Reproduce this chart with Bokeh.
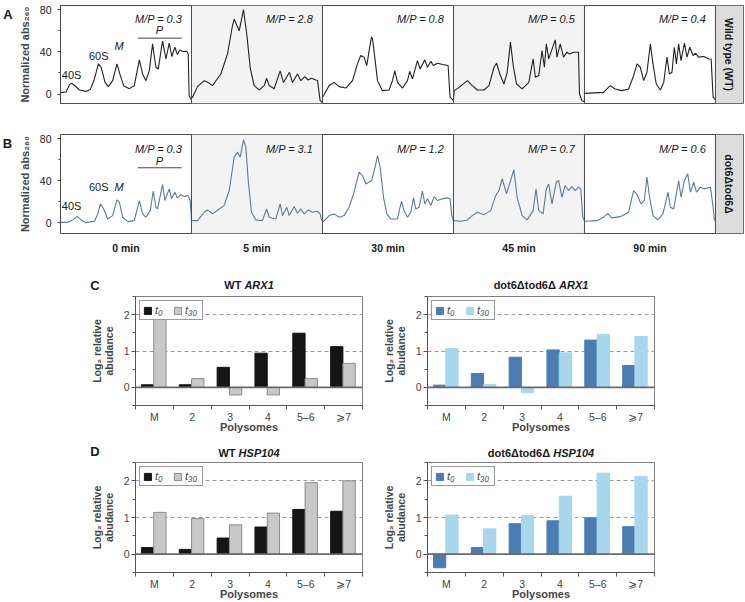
from math import pi
from bokeh.plotting import figure
from bokeh.layouts import column, row
from bokeh.models import (Range1d, FixedTicker, Span, BoxAnnotation, Label,
                          Legend, LegendItem)
from bokeh.embed import file_html
from bokeh.resources import INLINE

FONT = "Liberation Sans"

# ---------------- data: polysome profiles ----------------
# x = position across the gradient (% of fraction range), y = normalized abs260
times = ["0 min", "5 min", "30 min", "45 min", "90 min"]
mp_wt = ["0.3", "2.8", "0.8", "0.5", "0.4"]
mp_dot = ["0.3", "3.1", "1.2", "0.7", "0.6"]
strain_wt = "Wild type (WT)"
strain_dot = "dot6Δtod6Δ"

wt_0_x = [0, 4.3, 6.9, 8.6, 11.2, 14.5, 19.5, 22.8, 25.9, 28.9, 31.0, 34.0, 36.5, 39.8,
          43.1, 45.7, 48.2, 52.5, 56.3, 60.2, 62.7, 65.2, 67.8, 70.3, 72.8, 74.6, 77.9,
          80.5, 83.0, 85.0, 87.3, 89.3, 91.1, 93.1, 96.4, 97.5, 98.2, 100]
wt_0_y = [1.3, 1.9, 8.9, 10.2, 7.6, 3.8, 2.5, 4.4, 14.3, 28.6, 25.4, 11.1, 7.0, 12.7,
          28.6, 17.5, 7.9, 5.1, 7.9, 32.4, 19.0, 12.7, 22.2, 47.6, 25.4, 23.8, 50.2,
          33.3, 48.3, 35.6, 44.4, 37.5, 41.9, 40.3, 40.6, 38.0, -1.6, -5.7]

wt_5_x = [0, 0.8, 4.6, 9.7, 12.7, 16.0, 22.4, 27.5, 31.3, 32.6, 36.4, 39.7, 42.2, 44.8,
          47.8, 51.7, 55.5, 57.3, 59.3, 63.1, 67.7, 70.2, 74.8, 77.1, 80.9, 83.5, 86.5,
          89.1, 91.6, 94.9, 96.2, 98.2, 100]
wt_5_y = [-4.0, -3.0, 7.0, 12.7, 11.0, 8.0, 19.0, 38.0, 65.0, 71.0, 60.0, 80.0, 57.0, 25.0,
          8.0, 4.0, 8.0, 15.0, 8.0, 5.0, 22.0, 11.0, 20.6, 11.0, 19.0, 12.7, 16.5,
          13.3, 15.0, 13.3, 13.0, -6.3, -8.0]

wt_30_x = [0, 0.8, 5.1, 8.9, 12.7, 17.8, 22.9, 26.7, 29.2, 31.8, 33.8, 35.6, 37.4, 38.2,
           39.9, 42.0, 45.8, 50.8, 53.4, 55.2, 57.3, 61.1, 64.9, 66.6, 68.7, 72.5, 74.5,
           78.1, 80.2, 82.7, 84.7, 87.8, 91.6, 95.9, 97.4, 100]
wt_30_y = [-3.0, -1.6, 8.0, 11.0, 7.0, 5.7, 12.7, 28.6, 36.5, 35.0, 27.0, 41.0, 54.0, 52.4,
           35.0, 12.7, 3.2, 3.8, 12.7, 22.0, 11.0, 5.7, 12.7, 21.6, 14.3, 31.7, 23.8,
           32.4, 25.4, 31.0, 27.0, 29.2, 28.0, 27.0, -3.0, -6.3]

wt_45_x = [0, 0.5, 4.3, 10.6, 14.4, 18.2, 23.3, 27.1, 30.9, 32.9, 35.4, 38.5, 41.0, 43.5,
           45.6, 48.1, 52.4, 57.5, 60.8, 62.5, 65.1, 67.6, 69.4, 70.9, 72.7, 77.7, 79.0,
           81.5, 84.0, 86.6, 88.6, 91.6, 95.4, 96.2, 98.0, 100]
wt_45_y = [-5.0, 3.2, 6.3, 12.7, 8.0, 3.8, 3.8, 8.0, 25.4, 29.2, 19.0, 9.5, 20.6, 49.2,
           27.0, 9.5, 4.8, 11.0, 33.3, 15.9, 17.5, 41.3, 25.4, 47.6, 33.3, 51.4, 35.0,
           47.6, 35.0, 39.7, 38.0, 39.7, 39.7, 0.0, -6.3, -7.3]

wt_90_x = [0, 0.5, 14.5, 19.6, 23.5, 28.6, 33.7, 37.5, 40.1, 42.6, 45.2, 47.7, 50.3, 52.3,
           54.8, 57.9, 60.5, 63.0, 64.8, 66.8, 68.6, 70.2, 71.9, 73.7, 76.3, 78.3, 80.4,
           82.9, 84.7, 87.2, 91.1, 94.9, 96.7, 98.2, 100]
wt_90_y = [0.6, 0.6, 1.6, 8.0, 4.8, 3.2, 4.8, 17.5, 28.6, 25.4, 12.7, 20.6, 47.6, 28.6,
           9.5, 3.8, 11.0, 35.0, 19.0, 20.6, 44.4, 28.6, 47.6, 31.7, 48.3, 35.0, 44.4,
           36.5, 38.7, 35.0, 35.6, 33.3, 33.0, -3.0, -5.7]

dot_0_x = [0, 0.5, 5.6, 9.4, 12.7, 15.7, 19.5, 25.9, 28.4, 30.5, 33.0, 36.0, 39.8, 43.1,
           44.9, 47.5, 51.3, 56.3, 60.2, 62.7, 65.2, 68.5, 70.8, 72.8, 74.1, 77.9, 79.7,
           83.0, 84.8, 87.3, 89.3, 91.9, 94.4, 97.5, 99.0, 100]
dot_0_y = [0.6, 0.6, 0.6, 2.9, 6.3, 2.9, 0.3, 1.6, 8.6, 18.1, 13.3, 3.8, 7.0, 21.9,
           19.7, 5.4, 1.3, 2.2, 21.3, 8.6, 5.4, 11.7, 30.2, 14.9, 13.3, 36.5, 21.3,
           32.4, 22.9, 29.2, 23.8, 27.0, 25.0, 26.0, 21.3, 2.2]

dot_5_x = [0, 0.8, 4.6, 9.7, 12.2, 16.0, 21.1, 24.9, 28.8, 32.6, 35.1, 37.2, 39.7, 41.5,
           43.3, 45.8, 49.1, 54.2, 57.3, 59.3, 64.4, 67.7, 69.5, 72.8, 74.6, 78.4, 80.9,
           83.5, 86.0, 89.1, 92.4, 96.2, 98.2, 99.2, 100]
dot_5_y = [2.2, 2.2, 2.2, 10.2, 12.4, 8.6, 13.3, 16.5, 30.8, 62.5, 67.3, 62.5, 79.0, 72.0,
           40.3, 10.2, 2.9, 2.2, 13.3, 5.4, 3.8, 18.1, 7.0, 14.9, 7.0, 15.6, 9.2,
           13.3, 8.6, 12.4, 10.2, 11.1, 8.6, 2.9, 2.2]

dot_30_x = [0, 0.8, 5.1, 8.9, 12.7, 16.5, 20.3, 24.1, 27.9, 30.5, 33.1, 37.6, 40.7, 42.0,
            44.0, 46.6, 49.1, 52.1, 57.3, 59.2, 60.3, 62.3, 64.9, 67.4, 69.5, 71.2, 73.7,
            76.3, 78.1, 80.2, 82.7, 85.2, 87.8, 91.6, 94.9, 97.4, 98.7, 100]
dot_30_y = [2.2, 1.3, 7.0, 8.6, 5.4, 7.0, 14.9, 29.2, 48.3, 45.0, 37.0, 40.3, 56.0, 64.0,
            53.0, 24.4, 8.6, 3.8, 3.8, 14.9, 20.6, 11.7, 5.4, 10.2, 23.8, 13.3, 14.9,
            30.2, 18.1, 22.9, 16.5, 25.0, 21.3, 22.9, 23.8, 22.9, 7.0, 2.2]

dot_45_x = [0, 0.5, 5.6, 10.6, 14.4, 18.2, 23.3, 28.4, 32.2, 34.7, 37.2, 40.5, 46.1, 48.6,
            52.4, 56.2, 60.8, 63.0, 65.1, 68.4, 70.9, 72.7, 75.2, 78.5, 80.3, 82.8, 85.3,
            87.8, 90.4, 92.9, 95.4, 97.2, 98.7, 100]
dot_45_y = [2.2, 2.2, 1.6, 2.9, 7.0, 10.2, 7.9, 11.7, 26.0, 30.8, 42.0, 27.6, 50.5, 24.4,
            7.0, 2.9, 11.7, 32.4, 11.7, 8.6, 32.4, 37.0, 18.1, 38.7, 40.3, 24.4, 35.6,
            30.8, 34.6, 30.8, 34.0, 32.4, 5.4, 2.2]

dot_90_x = [0, 0.5, 9.4, 14.5, 17.6, 20.9, 27.3, 33.7, 37.5, 40.1, 43.1, 45.7, 47.7, 49.7,
            52.3, 55.9, 59.9, 63.8, 65.6, 68.1, 71.9, 73.7, 76.3, 78.8, 80.9, 83.4, 85.5,
            88.5, 91.1, 96.2, 98.2, 99.2]
dot_90_y = [1.6, 1.6, 2.2, 5.4, 9.2, 4.8, 6.0, 10.2, 30.8, 27.0, 18.1, 21.3, 43.5, 24.4,
            7.0, 2.9, 8.6, 29.2, 14.9, 13.3, 40.3, 24.4, 40.3, 46.7, 29.2, 38.7, 29.2,
            34.0, 32.4, 34.0, 14.9, 2.2]

wt_profiles = [(wt_0_x, wt_0_y), (wt_5_x, wt_5_y), (wt_30_x, wt_30_y),
               (wt_45_x, wt_45_y), (wt_90_x, wt_90_y)]
dot_profiles = [(dot_0_x, dot_0_y), (dot_5_x, dot_5_y), (dot_30_x, dot_30_y),
                (dot_45_x, dot_45_y), (dot_90_x, dot_90_y)]

# ---------------- data: log2 relative abundance ----------------
polysome_classes = ["M", "2", "3", "4", "5–6", "⩾7"]
wt_arx1_t0 = [0.07, 0.07, 0.55, 0.94, 1.49, 1.12]
wt_arx1_t30 = [1.97, 0.24, -0.21, -0.21, 0.24, 0.66]
dot_arx1_t0 = [0.06, 0.38, 0.83, 1.03, 1.30, 0.60]
dot_arx1_t30 = [1.07, 0.08, -0.15, 0.95, 1.46, 1.40]
wt_hsp104_t0 = [0.18, 0.13, 0.44, 0.74, 1.22, 1.17]
wt_hsp104_t30 = [1.14, 0.97, 0.80, 1.12, 1.95, 2.00]
dot_hsp104_t0 = [-0.37, 0.18, 0.83, 0.91, 0.99, 0.75]
dot_hsp104_t30 = [1.07, 0.69, 1.05, 1.58, 2.21, 2.12]

# ---------------- layout constants ----------------
TOTAL_W = 745
PANEL = 100.0
BOX = 21.4
LINE_COL = "#4a4a4a"
TXT = "#1a1a1a"


def label(p, x, y, text, size="11px", style="normal", align="center",
          baseline="middle", angle=0.0, color=TXT):
    p.add_layout(Label(x=x, y=y, text=text, text_font=FONT, text_font_size=size,
                       text_font_style=style, text_align=align,
                       text_baseline=baseline, angle=angle, text_color=color))


def text_strip(width, height):
    """A frame-only figure used to hold free text (titles, panel letters)."""
    p = figure(width=width, height=height, x_range=Range1d(0, width),
               y_range=Range1d(0, height), output_backend="svg",
               toolbar_location=None, x_axis_location=None,
               y_axis_location=None, min_border=0)
    p.min_border_left = p.min_border_right = 0
    p.min_border_top = p.min_border_bottom = 0
    p.outline_line_color = None
    p.grid.visible = False
    p.background_fill_color = "white"
    p.border_fill_color = "white"
    return p


def profile_fig(profiles, mp_vals, color, width, height, btop, bbot, y0,
                strain, ann, show_times):
    p = figure(width=width, height=height, x_range=Range1d(0, 5 * PANEL + BOX),
               y_range=Range1d(y0, 84), output_backend="svg",
               toolbar_location=None,
               x_axis_location="below" if show_times else None,
               min_border_left=46, min_border_right=2, min_border_top=btop,
               min_border_bottom=bbot)
    p.grid.visible = False
    p.outline_line_color = LINE_COL
    p.outline_line_width = 1
    p.background_fill_color = "white"
    p.border_fill_color = "white"
    for k in (1, 3):
        p.add_layout(BoxAnnotation(left=k * PANEL, right=(k + 1) * PANEL,
                                   fill_color="#f3f3f3", fill_alpha=1,
                                   line_alpha=0, level="underlay"))
    p.add_layout(BoxAnnotation(left=5 * PANEL, right=5 * PANEL + BOX,
                               fill_color="#dcdcdc", fill_alpha=1,
                               line_alpha=0, level="underlay"))
    for k in range(1, 6):
        p.add_layout(Span(location=k * PANEL, dimension="height",
                          line_color=LINE_COL, line_width=1))
    for i, (xs, ys) in enumerate(profiles):
        p.line([i * PANEL + x for x in xs], ys, line_color=color,
               line_width=1.1)
        label(p, i * PANEL + 93, ann["mp"], f"M/P = {mp_vals[i]}",
              style="italic", align="right")
    # first-panel peak annotations
    label(p, 8.5, ann["40S"], "40S")
    label(p, 29.2, ann["60S"], "60S")
    label(p, 44.7, ann["M"], "M", style="italic")
    label(p, 75.5, ann["P"], "P", style="italic")
    p.segment(x0=[59], y0=[ann["bar"]], x1=[92.5], y1=[ann["bar"]],
              line_color="#444", line_width=1)
    # strain label box
    label(p, 5 * PANEL + BOX / 2, (y0 + 84) / 2, strain, size="10.5px",
          style="bold", angle=-pi / 2)

    ax = p.yaxis[0]
    ax.ticker = FixedTicker(ticks=[0, 40, 80], minor_ticks=[20, 60])
    ax.axis_label = "Normalized abs₂₆₀"
    ax.axis_label_text_font = FONT
    ax.axis_label_text_font_style = "bold"
    ax.axis_label_text_font_size = "11px"
    ax.axis_label_standoff = 6
    ax.major_label_text_font = FONT
    ax.major_label_text_font_size = "10.5px"
    ax.major_label_standoff = 6
    ax.major_tick_in = 0
    ax.major_tick_out = 3
    ax.minor_tick_in = 0
    ax.minor_tick_out = 2
    ax.axis_line_color = LINE_COL
    ax.major_tick_line_color = LINE_COL
    ax.minor_tick_line_color = LINE_COL
    ax.major_label_text_color = TXT

    if show_times:
        xa = p.xaxis[0]
        centers = [int(i * PANEL + PANEL / 2) for i in range(len(times))]
        xa.ticker = FixedTicker(ticks=centers)
        xa.major_label_overrides = {c: t for c, t in zip(centers, times)}
        xa.major_tick_line_color = None
        xa.minor_tick_line_color = None
        xa.major_tick_out = 0
        xa.axis_line_color = None
        xa.major_label_standoff = 8
        xa.major_label_text_line_height = 1.0
        xa.major_label_text_font = FONT
        xa.major_label_text_font_style = "bold"
        xa.major_label_text_font_size = "10.5px"
        xa.major_label_text_color = TXT
    return p


# ---- rows A and B: letter strip + profile figure ----
LETTER_W = 14
H_A, H_B = 118, 139
fig_a = profile_fig(wt_profiles, mp_wt, "#222222", TOTAL_W - LETTER_W, H_A, 5, 15,
                    -9, strain_wt,
                    {"mp": 71.4, "40S": 18.4, "60S": 35.8, "M": 46.0,
                     "P": 60.3, "bar": 53.0}, False)
strip_a = text_strip(LETTER_W, H_A)
label(strip_a, 7.5, H_A - 11, "A", size="13px", style="bold")

fig_b = profile_fig(dot_profiles, mp_dot, "#5a7b9f", TOTAL_W - LETTER_W, H_B, 16, 24,
                    -10, strain_dot,
                    {"mp": 70.5, "40S": 16.5, "60S": 33.9, "M": 33.9,
                     "P": 59.3, "bar": 52.4}, True)
strip_b = text_strip(LETTER_W, H_B)
label(strip_b, 7.0, H_B - 13, "B", size="13px", style="bold")


def bar_fig(t0, t30, c0, l0, c30, l30, width, bleft, height, btop, bbot):
    p = figure(width=width, height=height, x_range=Range1d(0, 6),
               y_range=Range1d(-0.5, 2.5), output_backend="svg",
               toolbar_location=None, min_border_left=bleft,
               min_border_right=width - bleft - 227, min_border_top=btop,
               min_border_bottom=bbot)
    p.outline_line_color = "#808080"
    p.background_fill_color = "white"
    p.border_fill_color = "white"
    p.xgrid.visible = False
    p.ygrid.ticker = FixedTicker(ticks=[1, 2])
    p.ygrid.grid_line_color = "#9a9a9a"
    p.ygrid.grid_line_dash = "4 3"
    p.ygrid.grid_line_width = 1

    idx = range(len(polysome_classes))
    r0 = p.vbar(x=[i + 0.32 for i in idx], top=t0, bottom=0, width=0.325,
                fill_color=c0, line_color=l0, line_width=1)
    r1 = p.vbar(x=[i + 0.645 for i in idx], top=t30, bottom=0, width=0.325,
                fill_color=c30, line_color=l30, line_width=1)
    p.add_layout(Span(location=0, dimension="width", line_color="#6a6a6a",
                      line_width=1.8))

    leg = Legend(items=[LegendItem(label="t₀", renderers=[r0]),
                        LegendItem(label="t₃₀", renderers=[r1])],
                 orientation="horizontal", location="top_left")
    leg.label_text_font = FONT
    leg.label_text_font_size = "11px"
    leg.label_text_font_style = "italic"
    leg.glyph_width = 9
    leg.glyph_height = 9
    leg.label_height = 9
    leg.label_width = 14
    leg.label_standoff = 3
    leg.spacing = 4
    leg.padding = 3
    leg.margin = 4
    leg.border_line_color = "#333333"
    leg.border_line_width = 1
    leg.background_fill_alpha = 1
    p.add_layout(leg)

    ya = p.yaxis[0]
    ya.ticker = FixedTicker(ticks=[0, 1, 2], minor_ticks=[-0.5, 0.5, 1.5, 2.5])
    ya.axis_label = "Log₂ relative\nabudance"
    ya.axis_label_text_font = FONT
    ya.axis_label_text_font_style = "bold"
    ya.axis_label_text_font_size = "10.5px"
    ya.axis_label_text_line_height = 0.95
    ya.axis_label_standoff = 6
    ya.major_label_text_font = FONT
    ya.major_label_text_font_size = "10.5px"
    ya.major_label_standoff = 2
    ya.major_tick_in = 0
    ya.major_tick_out = 4
    ya.minor_tick_in = 0
    ya.minor_tick_out = 3
    ya.axis_line_color = "#555555"
    ya.major_tick_line_color = "#555555"
    ya.minor_tick_line_color = "#555555"

    xa = p.xaxis[0]
    centers = [i + 0.5 for i in idx]
    xa.ticker = FixedTicker(ticks=centers, minor_ticks=list(range(7)))
    xa.major_label_overrides = {c: s for c, s in zip(centers, polysome_classes)}
    xa.major_tick_line_color = None
    xa.major_tick_out = 0
    xa.minor_tick_in = 0
    xa.minor_tick_out = 4
    xa.minor_tick_line_color = "#555555"
    xa.axis_line_color = "#555555"
    xa.major_label_standoff = 1
    xa.major_label_text_line_height = 0.9
    xa.major_label_text_font = FONT
    xa.major_label_text_font_size = "10.5px"
    xa.axis_label = "Polysomes"
    xa.axis_label_text_font = FONT
    xa.axis_label_text_font_style = "bold"
    xa.axis_label_text_font_size = "11px"
    xa.axis_label_text_line_height = 0.9
    xa.axis_label_standoff = -5
    return p


def title_pair(strip, cx, y, part_a, em_a, part_b, em_b, size=11.0):
    """Bold title followed by a bold-italic gene name, centred at cx."""
    total = (em_a + 0.278 + em_b) * size
    start = cx - total / 2
    label(strip, start, y, part_a, style="bold", align="left")
    label(strip, start + (em_a + 0.278) * size, y, part_b,
          style="bold italic", align="left")


GRAY = ("#151515", "#151515", "#c8c8c8", "#8a8a8a")
BLUE = ("#4b7db2", "#4b7db2", "#a7d6ed", "#a7d6ed")
LEFT_W, LEFT_B = 378, 135
RIGHT_W, RIGHT_B = TOTAL_W - 378, 49

H_SC = 35
strip_c = text_strip(TOTAL_W, H_SC)
label(strip_c, 94.5, 7.5, "C", size="13px", style="bold")
title_pair(strip_c, LEFT_B + 113.5, 7.5, "WT", 1.555, "ARX1", 2.667)
title_pair(strip_c, LEFT_W + RIGHT_B + 113.5, 7.5, "dot6Δtod6Δ", 5.666,
           "ARX1", 2.667)

fig_cl = bar_fig(wt_arx1_t0, wt_arx1_t30, *GRAY, LEFT_W, LEFT_B, 146, 4, 33)
fig_cr = bar_fig(dot_arx1_t0, dot_arx1_t30, *BLUE, RIGHT_W, RIGHT_B, 146, 4, 33)

H_SD = 20
strip_d = text_strip(TOTAL_W, H_SD)
label(strip_d, 94.5, 7.5, "D", size="13px", style="bold")
title_pair(strip_d, LEFT_B + 113.5, 5.6, "WT", 1.555, "HSP104", 3.724)
title_pair(strip_d, LEFT_W + RIGHT_B + 113.5, 5.6, "dot6Δtod6Δ", 5.666,
           "HSP104", 3.724)

fig_dl = bar_fig(wt_hsp104_t0, wt_hsp104_t30, *GRAY, LEFT_W, LEFT_B, 144, 4, 30)
fig_dr = bar_fig(dot_hsp104_t0, dot_hsp104_t30, *BLUE, RIGHT_W, RIGHT_B, 144, 4, 30)

layout = column(row(strip_a, fig_a), row(strip_b, fig_b), strip_c,
                row(fig_cl, fig_cr), strip_d, row(fig_dl, fig_dr))

open("out.html", "w").write(file_html(layout, INLINE))
